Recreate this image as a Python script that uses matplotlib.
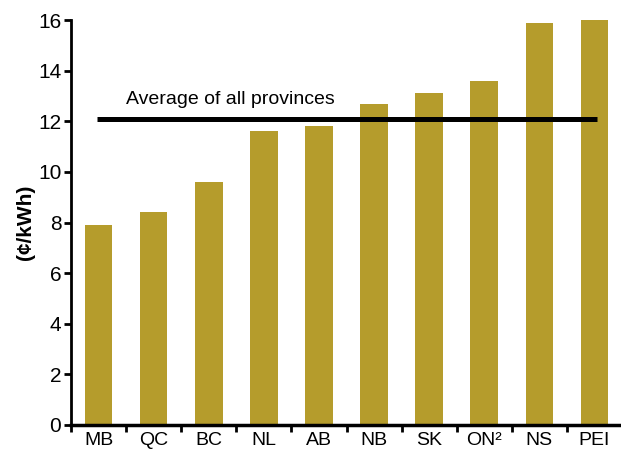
import matplotlib.pyplot as plt
import numpy as np

# data
provinces = ["MB", "QC", "BC", "NL", "AB", "NB", "SK", "ON²", "NS", "PEI"]
price = [7.9, 8.4, 9.6, 11.6, 11.8, 12.7, 13.1, 13.6, 15.9, 16.0]
avg_price = 12.1
avg_label = "Average of all provinces"
yticks = [0, 2, 4, 6, 8, 10, 12, 14, 16]

# --- style ---
BAR_COLOR = "#B59C2C"
FS = 14
plt.rcParams["font.family"] = ["Liberation Sans Narrow", "Liberation Sans", "DejaVu Sans"]

W, H = 621, 451
fig = plt.figure(figsize=(W / 100, H / 100), dpi=100)
ax = fig.add_axes([71 / W, 26 / H, (622 - 71) / W, (425 - 20) / H])

x = np.arange(len(provinces))
ax.bar(x, price, width=0.5, color=BAR_COLOR, zorder=2)

# average line across the categories
ax.plot([x[0] - 0.02, x[-1] + 0.05], [avg_price, avg_price], color="black", lw=3.6,
        solid_capstyle="butt", zorder=3)
ax.text(0.5, 12.85, avg_label, ha="left", va="center", fontsize=FS)

ax.set_xlim(-0.5, len(provinces) - 0.5)
ax.set_ylim(0, 16)
ax.set_yticks(yticks)
ax.set_yticklabels([str(v) for v in yticks], fontsize=FS + 1)

# ticks between categories, labels on category centres
ax.set_xticks(np.arange(len(provinces) + 1) - 0.5)
ax.set_xticklabels([])
ax.set_xticks(x, minor=True)
ax.set_xticklabels(provinces, minor=True, fontsize=FS)
ax.tick_params(axis="x", which="minor", length=0, pad=5)
ax.tick_params(axis="x", which="major", direction="out", length=5, width=2)
ax.tick_params(axis="y", direction="out", length=5, width=2, pad=2)

for s in ["top", "right"]:
    ax.spines[s].set_visible(False)
ax.spines["left"].set_linewidth(2)
ax.spines["bottom"].set_linewidth(2.5)

ax.set_ylabel("(¢/kWh)", fontsize=FS + 1, fontweight="bold", labelpad=2)

fig.savefig("out.png", dpi=100)
